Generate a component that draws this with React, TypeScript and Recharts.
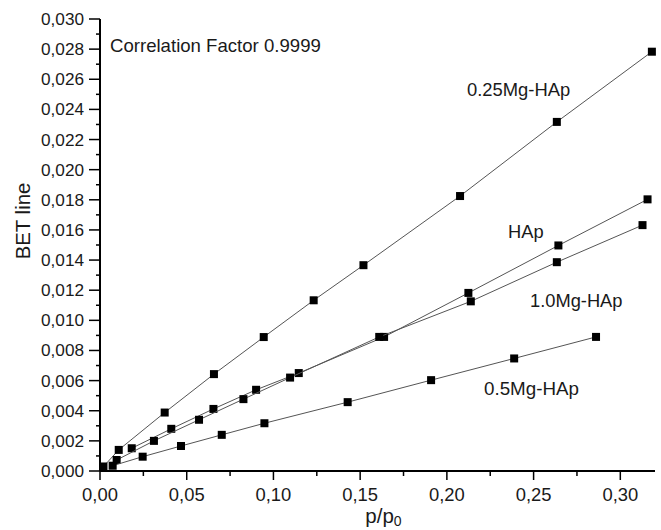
import { ScatterChart, Scatter, XAxis, YAxis, Label } from 'recharts';

const mg025X = [0.002, 0.0108, 0.0373, 0.0657, 0.0944, 0.1232, 0.1519, 0.2076, 0.2634, 0.3182];
const mg025Y = [0.0003, 0.0014, 0.00388, 0.00643, 0.00889, 0.01133, 0.01366, 0.01825, 0.02317, 0.02783];

const hapX = [0.0183, 0.0411, 0.0654, 0.090, 0.1146, 0.1638, 0.2124, 0.2643, 0.3157];
const hapY = [0.00151, 0.0028, 0.00412, 0.00539, 0.0065, 0.0089, 0.01182, 0.01497, 0.01803];

const mg10X = [0.0096, 0.0311, 0.0571, 0.0827, 0.1096, 0.161, 0.2138, 0.2634, 0.3128];
const mg10Y = [0.00073, 0.0020, 0.0034, 0.00477, 0.0062, 0.0089, 0.01126, 0.01386, 0.01632];

const mg05X = [0.0073, 0.0246, 0.0467, 0.0702, 0.0948, 0.1428, 0.1909, 0.2388, 0.286];
const mg05Y = [0.00035, 0.00095, 0.00166, 0.0024, 0.00317, 0.00457, 0.00603, 0.00747, 0.0089];

const xTicks = [0, 0.025, 0.05, 0.075, 0.1, 0.125, 0.15, 0.175, 0.2, 0.225, 0.25, 0.275, 0.3];
const yTicks = [
  0, 0.001, 0.002, 0.003, 0.004, 0.005, 0.006, 0.007, 0.008, 0.009, 0.01, 0.011, 0.012, 0.013, 0.014,
  0.015, 0.016, 0.017, 0.018, 0.019, 0.02, 0.021, 0.022, 0.023, 0.024, 0.025, 0.026, 0.027, 0.028,
  0.029, 0.03,
];

const toPoints = (xs: number[], ys: number[]) => xs.map((x, i) => ({ x, y: ys[i] }));

const FONT = '"Liberation Sans", Arial, sans-serif';
const TEXT = '#1a1a1a';

const comma = (v: number, d: number) => v.toFixed(d).replace('.', ',');

const YTick = (props: any) => {
  const { x, y, payload } = props;
  const v = payload.value as number;
  const major = Math.round(v * 1000) % 2 === 0;
  return (
    <g>
      <line x1={x} x2={x - (major ? 11 : 4)} y1={y} y2={y} stroke="#000" strokeWidth={1.5} />
      {major && (
        <text x={x - 16} y={y} dy={6} textAnchor="end" fontSize={17.2} fontFamily={FONT} fill={TEXT}>
          {comma(v, 3)}
        </text>
      )}
    </g>
  );
};

const XTick = (props: any) => {
  const { x, y, payload } = props;
  const v = payload.value as number;
  const major = Math.round(v * 1000) % 50 === 0;
  return (
    <g>
      <line x1={x} x2={x} y1={y} y2={y + (major ? 9 : 5)} stroke="#000" strokeWidth={1.5} />
      {major && (
        <text x={x} y={y + 30} textAnchor="middle" fontSize={18.4} fontFamily={FONT} fill={TEXT}>
          {comma(v, 2)}
        </text>
      )}
    </g>
  );
};

const Square = (props: any) => (
  <rect x={props.cx - 4} y={props.cy - 4} width={8} height={8} fill="#000" />
);

const XTitle = (props: any) => {
  const { viewBox } = props;
  const cx = viewBox.x + viewBox.width / 2;
  return (
    <text x={cx + 6} y={viewBox.y + 52} textAnchor="middle" fontSize={20.5} fontFamily={FONT} fill={TEXT}>
      p/p<tspan fontSize={14} dy={3}>0</tspan>
    </text>
  );
};

const YTitle = (props: any) => {
  const { viewBox } = props;
  const cy = viewBox.y + viewBox.height / 2 - 24;
  return (
    <text
      x={30}
      y={cy}
      transform={`rotate(-90 30 ${cy})`}
      textAnchor="middle"
      fontSize={20.4}
      fontFamily={FONT}
      fill={TEXT}
    >
      BET line
    </text>
  );
};

const seriesLine = { stroke: '#555', strokeWidth: 1 };

export default function App() {
  return (
    <div style={{ position: 'absolute', left: 0, top: 0, width: 661, height: 530, background: '#fff' }}>
      <ScatterChart width={661} height={530} margin={{ top: 19, right: 6, bottom: 19, left: 40 }}>
        <XAxis
          type="number"
          dataKey="x"
          domain={[0, 0.32]}
          ticks={xTicks}
          interval={0}
          tickSize={0}
          tickMargin={0}
          tickLine={false}
          tick={<XTick />}
          height={40}
          axisLine={{ stroke: '#000', strokeWidth: 2 }}
        >
          <Label content={<XTitle />} />
        </XAxis>
        <YAxis
          type="number"
          dataKey="y"
          domain={[0, 0.03]}
          ticks={yTicks}
          interval={0}
          tickSize={0}
          tickMargin={0}
          tickLine={false}
          tick={<YTick />}
          width={60}
          axisLine={{ stroke: '#000', strokeWidth: 2 }}
        >
          <Label content={<YTitle />} />
        </YAxis>
        <Scatter data={toPoints(mg025X, mg025Y)} line={seriesLine} shape={<Square />} isAnimationActive={false} />
        <Scatter data={toPoints(hapX, hapY)} line={seriesLine} shape={<Square />} isAnimationActive={false} />
        <Scatter data={toPoints(mg10X, mg10Y)} line={seriesLine} shape={<Square />} isAnimationActive={false} />
        <Scatter data={toPoints(mg05X, mg05Y)} line={seriesLine} shape={<Square />} isAnimationActive={false} />
      </ScatterChart>
      <svg
        width={661}
        height={530}
        style={{ position: 'absolute', left: 0, top: 0, pointerEvents: 'none' }}
        fontFamily={FONT}
        fill={TEXT}
      >
        <text x={110} y={52} fontSize={18.6}>Correlation Factor 0.9999</text>
        <text x={467} y={96} fontSize={18.4}>0.25Mg-HAp</text>
        <text x={508} y={238} fontSize={18.3}>HAp</text>
        <text x={530} y={307} fontSize={18.3}>1.0Mg-HAp</text>
        <text x={484} y={395} fontSize={18.8}>0.5Mg-HAp</text>
      </svg>
    </div>
  );
}
